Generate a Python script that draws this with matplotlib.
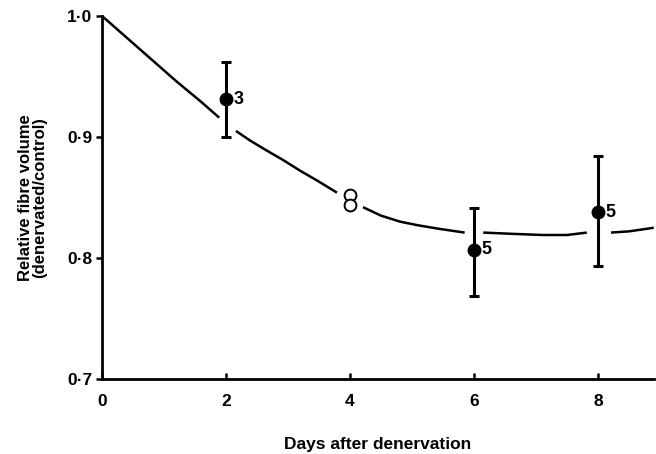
import matplotlib
matplotlib.use("Agg")
import matplotlib.pyplot as plt
import numpy as np

# measured points (filled) with error bars
days = [2, 6, 8]
volume = [0.931, 0.807, 0.838]
err_low = [0.900, 0.769, 0.793]
err_high = [0.962, 0.841, 0.884]
n_labels = ["3", "5", "5"]

# open circles at day 4
open_days = [4, 4]
open_volume = [0.852, 0.844]

# fitted curve (nan = gap round the markers)
curve_x = [0, 0.4, 0.8, 1.2, 1.6, 1.89, np.nan,
           2.16, 2.39, 2.65, 2.92, 3.2, 3.47, 3.79, np.nan,
           4.21, 4.5, 4.81, 5.1, 5.45, 5.85, np.nan,
           6.15, 6.6, 7.11, 7.5, 7.82, np.nan,
           8.21, 8.5, 8.9]
curve_y = [1.0, 0.982, 0.964, 0.946, 0.929, 0.916, np.nan,
           0.905, 0.897, 0.889, 0.881, 0.872, 0.864, 0.854, np.nan,
           0.842, 0.835, 0.830, 0.827, 0.824, 0.821, np.nan,
           0.821, 0.820, 0.819, 0.819, 0.821, np.nan,
           0.821, 0.822, 0.825]

x_ticks = [0, 2, 4, 6, 8]
y_ticks = [0.7, 0.8, 0.9, 1.0]
y_tick_labels = ["0·7", "0·8", "0·9", "1·0"]

plt.rcParams["font.family"] = ["Liberation Sans", "DejaVu Sans"]

fig = plt.figure(figsize=(6.56, 4.54), dpi=100)
ax = fig.add_axes([0.1555, 0.1652, 0.8411, 0.7996])

ax.plot(curve_x, curve_y, color="black", lw=1.8, solid_capstyle="butt")

yerr = [np.array(volume) - np.array(err_low), np.array(err_high) - np.array(volume)]
ax.errorbar(days, volume, yerr=yerr, fmt="o", color="black", ms=9,
            elinewidth=2.2, capsize=3.5, capthick=2.2)

ax.plot(open_days, open_volume, "o", mfc="white", mec="black", mew=1.4, ms=8.5)

for d, v, t in zip(days, volume, n_labels):
    ax.text(d + 0.12, v, t, fontsize=13, fontweight="bold", va="center", ha="left")

ax.set_xlim(0, 8.9)
ax.set_ylim(0.7, 1.0)
ax.set_xticks(x_ticks)
ax.set_yticks(y_ticks)
ax.set_yticklabels(y_tick_labels)

ax.spines["top"].set_visible(False)
ax.spines["right"].set_visible(False)
for s in ["left", "bottom"]:
    ax.spines[s].set_linewidth(2.0)

ax.tick_params(axis="y", direction="out", length=4, width=1.8, labelsize=12.5, pad=3)
ax.tick_params(axis="x", direction="in", length=4, width=1.8, labelsize=12.5, pad=11)
for lab in ax.get_xticklabels() + ax.get_yticklabels():
    lab.set_fontweight("bold")

ax.set_xlabel("Days after denervation", fontsize=12.5, fontweight="bold", labelpad=20)
ax.set_ylabel("Relative fibre volume\n(denervated/control)", fontsize=12,
              fontweight="bold", labelpad=14, linespacing=1.0)

plt.savefig("out.png", dpi=100)
plt.close()
